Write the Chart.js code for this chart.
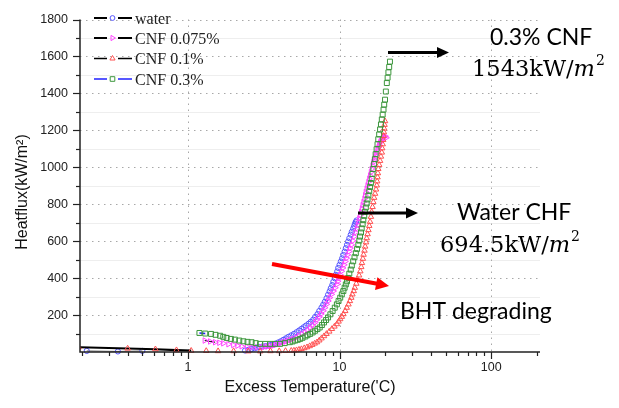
<!DOCTYPE html>
<html><head><meta charset="utf-8">
<script src="https://cdn.jsdelivr.net/npm/chart.js@4.4.1/dist/chart.umd.min.js"></script>
<style>html,body{margin:0;padding:0;background:#fff;}canvas{display:block;}</style>
</head><body>
<canvas id="c" width="619" height="408"></canvas>
<script>
// ---- data: [excess temperature (°C), heat flux (kW/m2)] ----
const seriesNames = ['water', 'CNF 0.075%', 'CNF 0.1%', 'CNF 0.3%'];
const water = [[0.215,6],[0.345,3],[0.5,6],[2.38,8],[2.5,12],[2.62,16],[2.74,20],[2.84,24],[2.97,27],[3.1,30],[3.25,32],[3.4,35],[3.53,38],[3.66,41],[3.8,46],[3.95,52],[4.1,58],[4.26,66],[4.43,74],[4.6,82],[4.8,90],[5.0,98],[5.2,107],[5.4,116],[5.6,125],[5.8,134],[6.0,143],[6.25,153],[6.45,163],[6.7,175],[6.9,190],[7.15,205],[7.35,222],[7.6,240],[7.8,256],[8.0,272],[8.2,291],[8.4,310],[8.6,328],[8.75,345],[8.95,362],[9.1,380],[9.3,399],[9.45,418],[9.65,436],[9.8,455],[10.0,472],[10.2,490],[10.4,507],[10.6,525],[10.8,543],[11.0,562],[11.2,580],[11.4,598],[11.6,616],[11.85,635],[12.05,651],[12.3,668],[12.5,682],[12.65,695],[12.8,704],[12.95,712]];
const cnf0075 = [[1.29,62],[1.4,57],[1.51,53],[1.61,50],[1.71,47],[1.85,42],[1.99,38],[2.12,34],[2.26,31],[2.45,28],[2.63,26],[2.85,25],[3.07,26],[3.2,28],[3.35,30],[3.5,32],[3.66,35],[3.8,39],[3.95,43],[4.1,48],[4.26,53],[4.43,57],[4.6,62],[4.78,66],[4.96,71],[5.2,79],[5.4,88],[5.65,97],[5.9,106],[6.15,119],[6.4,132],[6.65,146],[6.9,160],[7.1,175],[7.35,190],[7.55,206],[7.8,223],[8.0,240],[8.2,258],[8.4,276],[8.6,294],[8.85,312],[9.1,330],[9.35,348],[9.6,366],[9.75,383],[9.95,400],[10.1,418],[10.3,437],[10.5,455],[10.7,472],[10.9,490],[11.1,508],[11.3,526],[11.55,544],[11.75,562],[12.0,580],[12.25,602],[12.5,625],[12.75,647],[13.0,669],[13.2,687],[13.35,705],[13.5,723],[13.7,741],[13.9,759],[14.05,777],[14.2,795],[14.4,812],[14.6,830],[14.75,848],[14.9,866],[15.1,884],[15.3,902],[15.5,920],[15.7,938],[15.9,955],[16.1,973],[16.3,991],[16.5,1009],[16.7,1027],[16.9,1040],[17.15,1054],[17.35,1067],[17.6,1080],[17.8,1094],[18.05,1107],[18.25,1120],[18.5,1134],[18.75,1142],[19.0,1150],[19.25,1156],[19.5,1161],[19.75,1165],[20.0,1168],[20.3,1160]];
const cnf01 = [[0.19,26],[0.4,19],[0.61,15],[0.84,10],[1.05,7],[1.32,6],[1.58,5],[2.0,5],[2.5,4],[3.0,4],[3.5,5],[4.0,5],[4.4,6],[4.8,7],[5.0,8],[5.2,10],[5.4,13],[5.6,16],[5.85,21],[6.1,26],[6.35,32],[6.6,39],[6.85,46],[7.1,53],[7.35,63],[7.6,74],[7.9,86],[8.2,98],[8.55,111],[8.9,125],[9.25,138],[9.6,151],[9.85,165],[10.1,178],[10.35,191],[10.6,205],[10.9,222],[11.15,240],[11.45,258],[11.7,276],[11.95,294],[12.15,312],[12.4,330],[12.6,348],[12.9,370],[13.15,392],[13.45,415],[13.7,437],[13.9,460],[14.05,482],[14.25,505],[14.4,527],[14.6,549],[14.75,571],[14.95,594],[15.1,616],[15.3,638],[15.5,660],[15.7,683],[15.9,705],[16.1,732],[16.3,758],[16.5,785],[16.7,812],[16.9,835],[17.15,857],[17.4,880],[17.6,902],[17.7,924],[17.8,946],[17.9,968],[18.0,991],[18.25,1013],[18.5,1035],[18.75,1058],[19.0,1080],[19.1,1103],[19.25,1125],[19.4,1148],[19.5,1170],[19.6,1190],[19.7,1210],[19.8,1230],[19.95,1250]];
const cnf03 = [[1.19,103],[1.3,100],[1.42,98],[1.52,93],[1.63,88],[1.71,82],[1.80,76],[1.92,71],[2.04,67],[2.18,62],[2.32,58],[2.47,55],[2.63,53],[2.8,48],[2.99,44],[3.23,44],[3.48,44],[3.75,44],[4.05,44],[4.35,48],[4.7,53],[4.9,57],[5.1,62],[5.3,66],[5.5,71],[5.7,77],[5.95,84],[6.15,91],[6.4,98],[6.65,106],[6.9,115],[7.15,124],[7.4,133],[7.65,146],[7.9,160],[8.15,173],[8.4,187],[8.7,204],[9.0,222],[9.3,240],[9.6,258],[9.85,276],[10.1,294],[10.35,312],[10.6,330],[10.8,348],[11.0,366],[11.2,383],[11.4,401],[11.6,424],[11.85,446],[12.05,468],[12.3,491],[12.55,513],[12.8,535],[13.05,558],[13.3,580],[13.5,603],[13.65,625],[13.85,647],[14.0,669],[14.2,692],[14.35,714],[14.55,737],[14.7,759],[14.9,782],[15.1,804],[15.3,826],[15.5,848],[15.7,871],[15.9,893],[16.1,915],[16.3,937],[16.5,964],[16.7,991],[16.9,1018],[17.1,1044],[17.3,1071],[17.55,1098],[17.8,1125],[18.0,1152],[18.25,1178],[18.5,1205],[18.75,1232],[19.0,1259],[19.25,1285],[19.5,1312],[19.7,1339],[19.95,1366],[20.2,1410],[20.5,1456],[20.75,1485],[21.0,1514],[21.25,1543],[21.5,1572]];

// ---- ticks ----
const yTicks = [200, 400, 600, 800, 1000, 1200, 1400, 1600, 1800];
const yMinorTicks = [100, 300, 500, 700, 900, 1100, 1300, 1500, 1700];
const xTicks = [1, 10, 100];
const xMinorTicks = [0.2,0.3,0.4,0.5,0.6,0.7,0.8,0.9,2,3,4,5,6,7,8,9,20,30,40,50,60,70,80,90,200];
const X_MIN = 0.194, X_MAX = 210, Y_MIN = 0, Y_MAX = 1800;

const styles = [
  {color: 'rgb(85,85,255)',  shape: 'circle',   r: 2.6, rot: 0,  legendLine: '#000', legendW: 2.2},
  {color: 'rgb(255,70,255)', shape: 'triangle', r: 3.2, rot: 90, legendLine: '#000', legendW: 2},
  {color: 'rgb(255,80,80)',  shape: 'triangle', r: 3.2, rot: 0,  legendLine: '#000', legendW: 1.3},
  {color: 'rgb(60,150,60)',  shape: 'rect',     r: 3.5, rot: 0,  legendLine: '#2020ff', legendW: 1.3}
];
const segRules = [
  c => c.p1.parsed.x <= 0.5 ? ['#777', 1] : null,
  c => c.p0DataIndex <= 1 ? ['#000', 1] : null,
  c => c.p1.parsed.x <= 1.06 ? ['#000', 2.2] : null,
  c => c.p0DataIndex === 0 ? ['#2020ff', 1.5] : null
];
const allData = [water, cnf0075, cnf01, cnf03];

const datasets = allData.map((d, i) => ({
  label: seriesNames[i],
  data: d.map(p => ({x: p[0], y: p[1]})),
  showLine: true,
  borderColor: 'transparent',
  borderWidth: 1,
  segment: {
    borderColor: c => { const r = segRules[i](c); return r ? r[0] : 'transparent'; },
    borderWidth: c => { const r = segRules[i](c); return r ? r[1] : 0; }
  },
  pointStyle: styles[i].shape,
  pointRotation: styles[i].rot,
  pointRadius: styles[i].r,
  pointBorderWidth: 1,
  pointBorderColor: styles[i].color,
  pointBackgroundColor: 'rgba(0,0,0,0)',
  order: 4 - i,
  clip: {left: 0, top: 5, right: 5, bottom: 6}
}));

function drawMarker(ctx, s, x, y) {
  ctx.save();
  ctx.strokeStyle = s.color; ctx.lineWidth = 1;
  ctx.beginPath();
  if (s.shape === 'circle') { ctx.arc(x, y, 2.4, 0, Math.PI * 2); }
  else if (s.shape === 'rect') { const h = 2.3; ctx.rect(x - h, y - h, 2 * h, 2 * h); }
  else {
    let a = s.rot * Math.PI / 180; const r = 3;
    ctx.moveTo(x + Math.sin(a) * r, y - Math.cos(a) * r);
    a += 2 * Math.PI / 3; ctx.lineTo(x + Math.sin(a) * r, y - Math.cos(a) * r);
    a += 2 * Math.PI / 3; ctx.lineTo(x + Math.sin(a) * r, y - Math.cos(a) * r);
    ctx.closePath();
  }
  ctx.stroke();
  ctx.restore();
}
function arrow(ctx, x1, y1, x2, y2, color, w, hl, hw) {
  const a = Math.atan2(y2 - y1, x2 - x1);
  const bx = x2 - hl * Math.cos(a), by = y2 - hl * Math.sin(a);
  ctx.save();
  ctx.strokeStyle = color; ctx.fillStyle = color; ctx.lineWidth = w;
  ctx.beginPath(); ctx.moveTo(x1, y1); ctx.lineTo(bx + 1 * Math.cos(a), by + 1 * Math.sin(a)); ctx.stroke();
  ctx.beginPath(); ctx.moveTo(x2, y2);
  ctx.lineTo(bx + hw * Math.sin(a), by - hw * Math.cos(a));
  ctx.lineTo(bx - hw * Math.sin(a), by + hw * Math.cos(a));
  ctx.closePath(); ctx.fill();
  ctx.restore();
}
function mathText(ctx, num, x, base) {
  ctx.save();
  ctx.fillStyle = '#000'; ctx.textAlign = 'left'; ctx.textBaseline = 'alphabetic';
  const f1 = '22.5px "DejaVu Serif"', f2 = 'italic 22.5px "DejaVu Serif"', f3 = '14px "DejaVu Serif"';
  ctx.font = f1; const t1 = num + 'kW/'; ctx.fillText(t1, x, base); x += ctx.measureText(t1).width;
  ctx.font = f2; ctx.fillText('m', x, base); x += ctx.measureText('m').width + 1;
  ctx.font = f3; ctx.fillText('2', x, base - 11);
  ctx.restore();
}

const customPlugin = {
  id: 'custom',
  beforeDatasetsDraw(chart) {
    const {ctx, chartArea: a, scales: {x, y}} = chart;
    ctx.save();
    ctx.lineWidth = 1;
    ctx.strokeStyle = '#eeeeee';
    yMinorTicks.forEach(v => { const py = Math.round(y.getPixelForValue(v)) + 0.5; ctx.beginPath(); ctx.moveTo(a.left, py); ctx.lineTo(a.right, py); ctx.stroke(); });
    ctx.setLineDash([1.5, 4.5]);
    ctx.strokeStyle = '#a8a8a8';
    yTicks.forEach(v => { const py = Math.round(y.getPixelForValue(v)) + 0.5; ctx.beginPath(); ctx.moveTo(a.left, py); ctx.lineTo(a.right, py); ctx.stroke(); });
    xTicks.forEach(v => { const px = Math.round(x.getPixelForValue(v)) + 0.5; ctx.beginPath(); ctx.moveTo(px, a.top); ctx.lineTo(px, a.bottom); ctx.stroke(); });
    ctx.restore();
  },
  afterDraw(chart) {
    const {ctx, chartArea: a, scales: {x, y}} = chart;
    ctx.save();
    // axes
    ctx.strokeStyle = '#222'; ctx.lineWidth = 1.5;
    ctx.beginPath(); ctx.moveTo(a.left, a.top); ctx.lineTo(a.left, a.bottom); ctx.lineTo(a.right, a.bottom); ctx.stroke();
    ctx.lineWidth = 1.2;
    yTicks.forEach(v => { const py = Math.round(y.getPixelForValue(v)) + 0.5; ctx.beginPath(); ctx.moveTo(a.left - 7, py); ctx.lineTo(a.left, py); ctx.stroke(); });
    yMinorTicks.forEach(v => { const py = Math.round(y.getPixelForValue(v)) + 0.5; ctx.beginPath(); ctx.moveTo(a.left - 4, py); ctx.lineTo(a.left, py); ctx.stroke(); });
    xTicks.forEach(v => { const px = Math.round(x.getPixelForValue(v)) + 0.5; ctx.beginPath(); ctx.moveTo(px, a.bottom); ctx.lineTo(px, a.bottom + 7); ctx.stroke(); });
    xMinorTicks.forEach(v => { const px = Math.round(x.getPixelForValue(v)) + 0.5; ctx.beginPath(); ctx.moveTo(px, a.bottom); ctx.lineTo(px, a.bottom + 4); ctx.stroke(); });
    // axis titles
    ctx.fillStyle = '#111';
    ctx.font = '16px "Liberation Sans", Arial, sans-serif';
    ctx.textAlign = 'center'; ctx.textBaseline = 'middle';
    ctx.fillText("Excess Temperature('C)", (a.left + a.right) / 2, 388);
    ctx.save(); ctx.translate(23, 192); ctx.rotate(-Math.PI / 2);
    ctx.fillText('Heatflux(kW/m\u00B2)', 0, 0); ctx.restore();
    // legend
    const rows = [23.5, 43.5, 64, 84.5];
    ctx.font = '16px "Liberation Serif", "Times New Roman", serif';
    ctx.textAlign = 'left'; ctx.textBaseline = 'alphabetic';
    seriesNames.forEach((n, i) => {
      const s = styles[i], yy = rows[i] - 5.5;
      ctx.strokeStyle = s.legendLine; ctx.lineWidth = s.legendW;
      ctx.beginPath(); ctx.moveTo(94, yy); ctx.lineTo(107, yy); ctx.moveTo(118, yy); ctx.lineTo(132, yy); ctx.stroke();
      drawMarker(ctx, s, 112.5, yy);
      ctx.fillStyle = '#222';
      ctx.fillText(n, 135, rows[i]);
    });
    // annotations
    arrow(ctx, 388, 52.5, 449, 52.5, '#000', 3, 12, 5.5);
    arrow(ctx, 358, 213, 418, 213, '#000', 3, 12, 5.5);
    arrow(ctx, 272, 264, 389, 286, '#ff0000', 4, 13, 6.5);
    ctx.fillStyle = '#000';
    ctx.font = '23px Lato, "Open Sans", sans-serif';
    ctx.fillText('0.3% CNF', 490, 45);
    ctx.fillText('Water CHF', 457, 220);
    ctx.fillText('BHT degrading', 400, 319);
    mathText(ctx, '1543', 472, 76);
    mathText(ctx, '694.5', 440, 252);
    ctx.restore();
  }
};

new Chart(document.getElementById('c'), {
  type: 'scatter',
  data: {datasets},
  options: {
    responsive: false, animation: false, devicePixelRatio: 1,
    layout: {padding: {top: 15, right: 79, left: 0, bottom: 0}},
    plugins: {legend: {display: false}, tooltip: {enabled: false}},
    scales: {
      x: {
        type: 'logarithmic', min: X_MIN, max: X_MAX,
        afterFit: s => { s.height = 56; },
        afterBuildTicks: s => { s.ticks = xTicks.map(v => ({value: v})); },
        ticks: {callback: v => String(v), color: '#222', font: {family: '"Liberation Sans", Arial, sans-serif', size: 12.5}, padding: 8, maxRotation: 0, autoSkip: false},
        grid: {display: false, drawTicks: false}, border: {display: false}
      },
      y: {
        min: Y_MIN, max: Y_MAX,
        afterFit: s => { s.width = 80; },
        afterBuildTicks: s => { s.ticks = yTicks.map(v => ({value: v})); },
        ticks: {callback: v => String(v), color: '#222', font: {family: '"Liberation Sans", Arial, sans-serif', size: 12.5}, padding: 12, autoSkip: false},
        grid: {display: false, drawTicks: false}, border: {display: false}
      }
    }
  },
  plugins: [customPlugin]
});
</script>
</body></html>
